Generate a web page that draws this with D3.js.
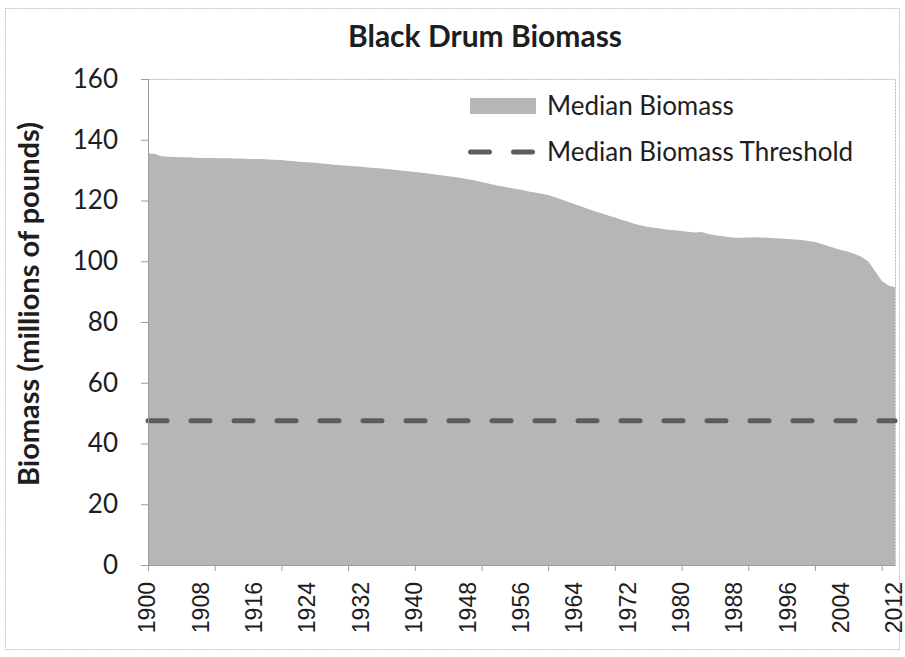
<!DOCTYPE html>
<html>
<head>
<meta charset="utf-8">
<script src="https://cdn.jsdelivr.net/npm/d3@7/dist/d3.min.js"></script>
<style>
	body { margin: 0; background: #fff; }
	text { font-family: Lato, "Open Sans", sans-serif; fill: #1e1e1e; }
	.axis path, .axis line { stroke: #9c9c9c; }
	.xlab text { font-family: "Liberation Sans", Arial, sans-serif; }
</style>
</head>
<body>
<svg id="chart"></svg>
<script>
// Black Drum Biomass, median biomass vs threshold

var years = d3.range(1900, 2013); // one category per year, 1900-2012

// median biomass, millions of pounds
var biomass = [
	135.5, 135.4, 134.6, 134.4, 134.3, 134.2, 134.2, 134.1, 134.0, 134.0, // 1900s
	134.0, 133.9, 133.9, 133.8, 133.8, 133.7, 133.7, 133.7, 133.5, 133.4, // 1910s
	133.3, 133.1, 132.9, 132.7, 132.6, 132.4, 132.2, 132.0, 131.8, 131.6, // 1920s
	131.4, 131.3, 131.1, 130.9, 130.7, 130.5, 130.3, 130.1, 129.9, 129.6, // 1930s
	129.4, 129.1, 128.9, 128.6, 128.3, 128.0, 127.7, 127.4, 127.0, 126.6, // 1940s
	126.1, 125.6, 125.1, 124.7, 124.3, 123.9, 123.5, 123.0, 122.6, 122.2, // 1950s
	121.8, 121.1, 120.3, 119.5, 118.8, 118.0, 117.2, 116.5, 115.8, 115.1, // 1960s
	114.4, 113.7, 113.0, 112.3, 111.8, 111.3, 111.0, 110.7, 110.4, 110.2, // 1970s
	110.0, 109.7, 109.5, 109.6, 109.0, 108.6, 108.3, 108.0, 107.7, 107.7, // 1980s
	107.8, 107.9, 107.8, 107.7, 107.6, 107.5, 107.3, 107.2, 107.0, 106.7, // 1990s
	106.3, 105.7, 105.0, 104.3, 103.6, 103.1, 102.4, 101.4, 99.9, 96.8,   // 2000s
	93.6, 92.0, 91.4                                                      // 2010-2012
];

var threshold = 47.5; // median biomass threshold

var yTicks = [0, 20, 40, 60, 80, 100, 120, 140, 160];
var labelYears = [1900, 1908, 1916, 1924, 1932, 1940, 1948, 1956, 1964, 1972, 1980, 1988, 1996, 2004, 2012];
var tickYears = [1900, 1910, 1920, 1930, 1940, 1950, 1960, 1970, 1980, 1990, 2000, 2010];
var legendNames = ["Median Biomass", "Median Biomass Threshold"];

var W = 905, H = 657;
var lPad = 148, tPad = 79, conWidth = 747, conHeight = 486;
var areaFill = "#b5b6b8", dashCol = "#5b5d5f";

var svg = d3.select("#chart").attr("width", W).attr("height", H);

var xS = d3.scaleLinear().domain([1900, 2012]).range([lPad, lPad + conWidth]);
var yS = d3.scaleLinear().domain([0, 160]).range([tPad + conHeight, tPad]);

var series = years.map(function(yr, i) {
	return { x: yr, y: biomass[i] };
});

// outer frame of the chart area
svg.append("rect")
	.attr("x", 5.5).attr("y", 8.5)
	.attr("width", 894).attr("height", 641)
	.attr("fill", "none")
	.attr("stroke", "#c4c4c4")
	.attr("stroke-dasharray", "2,1");

// plot area border
svg.append("rect")
	.attr("x", lPad + 0.5).attr("y", tPad + 0.5)
	.attr("width", conWidth).attr("height", conHeight)
	.attr("fill", "none")
	.attr("stroke", "#b8b8b8")
	.attr("stroke-dasharray", "2,1");

var drawArea = function() {
	var area = d3.area()
		.x(function(d) { return xS(d.x); })
		.y0(yS(0))
		.y1(function(d) { return yS(d.y); });
	svg.append("path")
		.datum(series)
		.attr("d", area)
		.attr("fill", areaFill);

	var line = d3.line()
		.x(function(d) { return xS(d.x); })
		.y(function(d) { return yS(d.y); });
	svg.append("path")
		.datum([{ x: years[0], y: threshold }, { x: years[years.length - 1], y: threshold }])
		.attr("d", line)
		.attr("fill", "none")
		.attr("stroke", dashCol)
		.attr("stroke-width", 5)
		.attr("stroke-linecap", "round")
		.attr("stroke-dasharray", "19,24");
}

var drawXaxis = function() {
	// tick marks every 10 years
	svg.append("g")
		.attr("class", "axis")
		.attr("transform", "translate(0," + (tPad + conHeight) + ")")
		.call(d3.axisBottom(xS).tickValues(tickYears).tickSize(6).tickFormat(""))
		.select(".domain").remove();

	// labels every 8 years, rotated
	var g = svg.append("g")
		.attr("class", "axis xlab")
		.attr("transform", "translate(0," + (tPad + conHeight) + ")")
		.call(d3.axisBottom(xS).tickValues(labelYears).tickSize(0).tickFormat(d3.format("d")));
	g.select(".domain").attr("stroke", "#9c9c9c");
	g.selectAll("text")
		.attr("font-size", 23)
		.attr("fill", "#1e1e1e")
		.attr("text-anchor", "end")
		.attr("transform", "rotate(-90)")
		.attr("x", -17)
		.attr("y", 0)
		.attr("dy", "0.3em");
}

var drawYaxis = function() {
	var g = svg.append("g")
		.attr("class", "axis")
		.attr("transform", "translate(" + lPad + ",0)")
		.call(d3.axisLeft(yS).tickValues(yTicks).tickSize(7).tickPadding(23));
	g.selectAll("text")
		.attr("font-size", 26)
		.attr("fill", "#1e1e1e")
		.attr("font-family", "Lato, sans-serif");

	svg.append("text")
		.attr("transform", "translate(39," + 304 + ") rotate(-90)")
		.attr("text-anchor", "middle")
		.attr("font-size", 29)
		.attr("font-weight", "bold")
		.text("Biomass (millions of pounds)");
}

var drawLegend = function() {
	var lx = 470, lw = 66;
	svg.append("rect")
		.attr("x", lx).attr("y", 98)
		.attr("width", lw).attr("height", 16)
		.attr("fill", areaFill);
	svg.append("line")
		.attr("x1", lx + 0.5).attr("x2", lx + lw)
		.attr("y1", 152).attr("y2", 152)
		.attr("stroke", dashCol)
		.attr("stroke-width", 5)
		.attr("stroke-linecap", "round")
		.attr("stroke-dasharray", "19,24");
	svg.selectAll(".legtext")
		.data(legendNames)
		.enter().append("text")
		.attr("class", "legtext")
		.attr("x", 547)
		.attr("y", function(d, i) { return 115 + i * 46; })
		.attr("font-size", 26)
		.text(function(d) { return d; });
}

drawArea();
drawXaxis();
drawYaxis();
drawLegend();

svg.append("text")
	.attr("x", 485).attr("y", 47)
	.attr("text-anchor", "middle")
	.attr("font-size", 30)
	.attr("font-weight", "bold")
	.text("Black Drum Biomass");
</script>
</body>
</html>
